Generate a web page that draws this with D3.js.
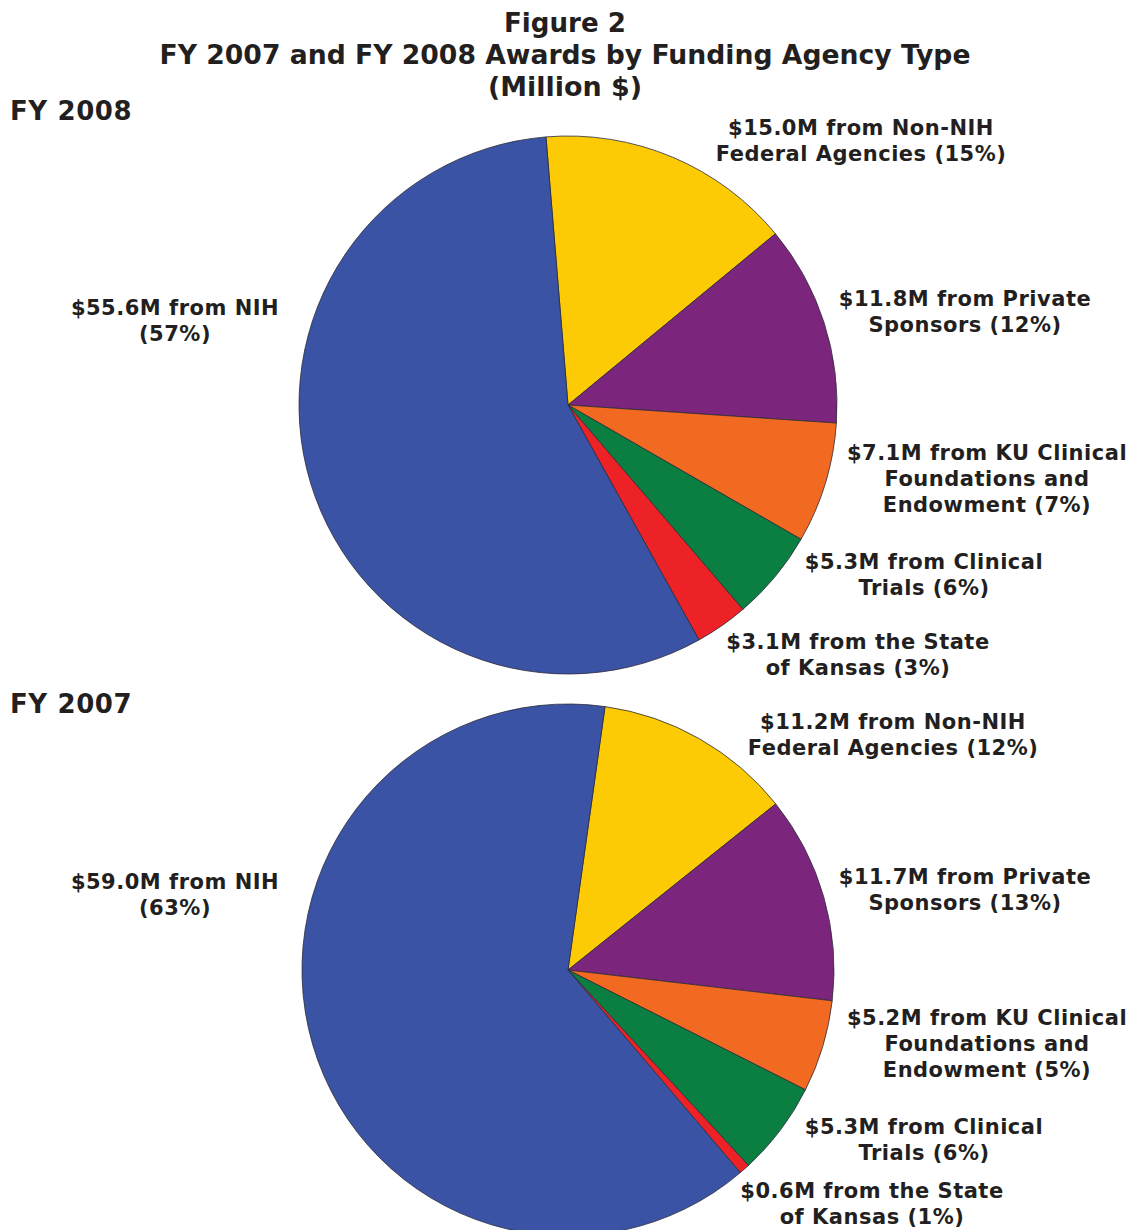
<!DOCTYPE html>
<html>
<head>
<meta charset="utf-8">
<script src="https://cdn.jsdelivr.net/npm/d3@7"></script>
<style>
  body { margin: 0; background: #fff; }
  svg text { font-family: "DejaVu Sans", Verdana, sans-serif; font-weight: bold; fill: #231f20; }
</style>
</head>
<body>
<div id="chart"></div>
<script>
// categories in drawing order (clockwise from the first slice)
const categories = ["Non-NIH Federal Agencies", "Private Sponsors", "KU Clinical Foundations and Endowment",
  "Clinical Trials", "State of Kansas", "NIH"];
const fy2008 = [15.0, 11.8, 7.1, 5.3, 3.1, 55.6];
const fy2007 = [11.2, 11.7, 5.2, 5.3, 0.6, 59.0];
const pct2008 = [15, 12, 7, 6, 3, 57];
const pct2007 = [12, 13, 5, 6, 1, 63];
const colors = ["#fccb06", "#7b267c", "#f26a22", "#0a7f41", "#ec2227", "#3a53a4"];

// label text, line by line
const labels2008 = [
  ["$15.0M from Non-NIH", "Federal Agencies (15%)"],
  ["$11.8M from Private", "Sponsors (12%)"],
  ["$7.1M from KU Clinical", "Foundations and", "Endowment (7%)"],
  ["$5.3M from Clinical", "Trials (6%)"],
  ["$3.1M from the State", "of Kansas (3%)"],
  ["$55.6M from NIH", "(57%)"]
];
const labels2007 = [
  ["$11.2M from Non-NIH", "Federal Agencies (12%)"],
  ["$11.7M from Private", "Sponsors (13%)"],
  ["$5.2M from KU Clinical", "Foundations and", "Endowment (5%)"],
  ["$5.3M from Clinical", "Trials (6%)"],
  ["$0.6M from the State", "of Kansas (1%)"],
  ["$59.0M from NIH", "(63%)"]
];

const width = 1130, height = 1230;
const svg = d3.select("#chart").append("svg")
  .attr("width", width)
  .attr("height", height);

// title block
const titleLines = ["Figure 2", "FY 2007 and FY 2008 Awards by Funding Agency Type", "(Million $)"];
const titleWidths = [122, 811, 154];
svg.selectAll("text.title")
  .data(titleLines)
  .join("text")
  .attr("class", "title")
  .attr("x", width / 2)
  .attr("y", (_, i) => 32 + i * 32)
  .attr("text-anchor", "middle")
  .attr("textLength", (_, i) => titleWidths[i])
  .attr("lengthAdjust", "spacingAndGlyphs")
  .style("font-size", "26px")
  .text(d => d);

const pies = [
  { year: "FY 2008", values: fy2008, labels: labels2008, cx: 568, cy: 405, r: 269, start: -4.7, titleY: 120,
    labelPos: [[861, 135], [965, 306], [987, 460], [924, 569], [858, 649], [175, 315]] },
  { year: "FY 2007", values: fy2007, labels: labels2007, cx: 568, cy: 970, r: 266, start: 8.0, titleY: 713,
    labelPos: [[893, 729], [965, 884], [987, 1025], [924, 1134], [872, 1198], [175, 889]] }
];

pies.forEach(p => {
  svg.append("text")
    .attr("x", 10)
    .attr("y", p.titleY)
    .style("font-size", "26px")
    .style("letter-spacing", "0.6px")
    .text(p.year);

  const data = categories.map((c, i) => ({ category: c, value: p.values[i], color: colors[i], lines: p.labels[i] }));
  const s = p.start * Math.PI / 180;
  const pie = d3.pie().value(d => d.value).sort(null).startAngle(s).endAngle(s + 2 * Math.PI);
  const arc = d3.arc().innerRadius(0).outerRadius(p.r);

  const g = svg.append("g").attr("transform", `translate(${p.cx},${p.cy})`);
  g.selectAll("path")
    .data(pie(data))
    .join("path")
    .attr("d", arc)
    .attr("fill", d => d.data.color)
    .attr("stroke", "#2b2b3a")
    .attr("stroke-width", 0.8);

  // slice labels
  data.forEach((d, i) => {
    const [lx, ly] = p.labelPos[i];
    svg.append("text")
      .attr("text-anchor", "middle")
      .style("font-size", "21px")
      .style("letter-spacing", "0.5px")
      .selectAll("tspan")
      .data(d.lines)
      .join("tspan")
      .attr("x", lx)
      .attr("y", (_, j) => ly + j * 26)
      .text(t => t);
  });
});
</script>
</body>
</html>
